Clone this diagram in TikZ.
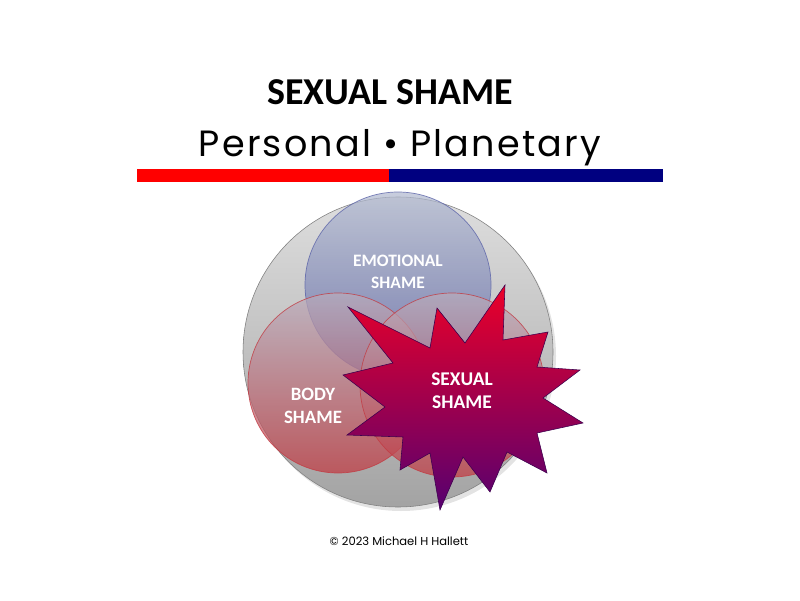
\documentclass[tikz,border=0pt]{standalone}
\usepackage{fontspec}
\setmainfont{Carlito}
\newfontfamily\geofont[LetterSpace=6]{Poppins}
\newfontfamily\smallgeofont{Poppins}
\usepackage{xcolor}
\usepackage{tikz}
\usetikzlibrary{positioning,shadings}

\definecolor{barred}{HTML}{FF0000}
\definecolor{barblue}{HTML}{000080}
\definecolor{emotop}{HTML}{B2BAD0}
\definecolor{emobot}{HTML}{5A62A8}
\definecolor{bodytop}{HTML}{B8ACBC}
\definecolor{bodybot}{HTML}{C23A42}
\definecolor{startop}{HTML}{EC0028}
\definecolor{starbot}{HTML}{560070}

\begin{document}
\begin{tikzpicture}[
    x=0.025cm, y=0.025cm,
    title/.style={anchor=base, text=black},
    label/.style={text=white, align=center, font=\bfseries\fontsize{12}{15}\selectfont},
    ring/.style={line width=0.5pt, fill opacity=0.72, draw opacity=0.8}
]
\useasboundingbox (0,0) rectangle (800,600);

% heading
\node[title, font=\bfseries\fontsize{27}{30}\selectfont] (head) at (390,495) {SEXUAL SHAME};
\node[title, font=\geofont\fontsize{26}{30}\selectfont] (sub) at (400,443) {Personal • Planetary};
\fill[barred] (137,418) rectangle (389,431);
\fill[barblue] (389,418) rectangle (663,431);

% circles
\fill[black!18, opacity=0.6] (401,244) circle (155);
\shade[draw=black!50, top color=black!13, bottom color=black!36] (398,248) circle (155);
\shade[ring, draw=emobot, top color=emotop, bottom color=emobot] (398,315) circle (93);
\shade[ring, draw=bodybot, top color=bodytop, bottom color=bodybot] (338,217) circle (90);
\shade[ring, draw=bodybot, top color=bodytop, bottom color=bodybot] (452,215) circle (92);

% burst
\shade[draw=starbot!70!black, line width=0.4pt, top color=startop, bottom color=starbot]
    (343,225) -- (393,237) -- (348,293) -- (430,252) -- (437,292) -- (465,257)
 -- (505,315) -- (503,260) -- (548,268) -- (537,233) -- (580,230) -- (543,202)
 -- (583,177) -- (537,167) -- (547,127) -- (507,148) -- (490,108) -- (463,143)
 -- (440,90) -- (430,147) -- (400,130) -- (403,163) -- (347,165) -- (385,193) -- cycle;

% labels
\node[label, font=\bfseries\fontsize{12.4}{15.5}\selectfont] (emo) at (398,328) {EMOTIONAL\\SHAME};
\node[label, font=\bfseries\fontsize{13.4}{16}\selectfont] (body) at (313,194) {BODY\\SHAME};
\node[label, font=\bfseries\fontsize{13.8}{16.5}\selectfont] (sex) at (462,209) {SEXUAL\\SHAME};

\node[title, font=\smallgeofont\fontsize{8.2}{10}\selectfont] (copy) at (399,55) {© 2023 Michael H Hallett};
\end{tikzpicture}
\end{document}
